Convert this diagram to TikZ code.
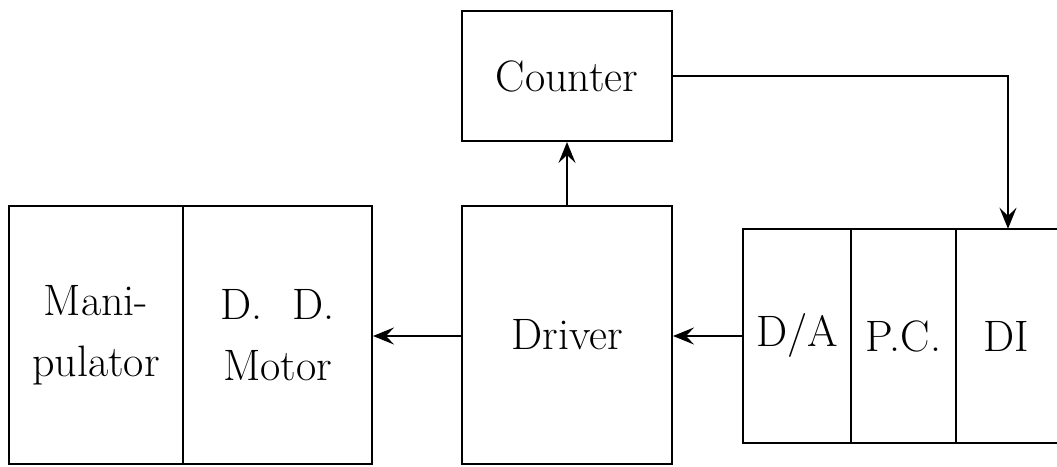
\documentclass[tikz,border=0pt]{standalone}
\usetikzlibrary{arrows.meta}
\begin{document}
\begin{tikzpicture}[x=1pt,y=1pt,
  box/.style={draw, line width=2pt, inner sep=0pt, align=center, font=\fontsize{44}{61}\selectfont},
  txt/.style={inner sep=0pt, align=center, font=\fontsize{44}{61}\selectfont},
  conn/.style={line width=2pt, -{Stealth[length=21pt,width=17pt,inset=8pt]}}]
\clip (0,0) rectangle (1057,466);
\node[box, minimum width=174pt, minimum height=258pt] (manip) at (96,131) {Mani-\\pulator};
\node[box, minimum width=189pt, minimum height=258pt] (motor) at (277.5,131) {D.\hspace{30pt}D.\\Motor};
\node[box, minimum width=210pt, minimum height=258pt] (driver) at (567,131) {Driver};
\node[box, minimum width=210pt, minimum height=130pt] (counter) at (567,390) {Counter};
\node[box, minimum width=108pt, minimum height=214pt] (da) at (797,130) {D/A};
\node[box, minimum width=105pt, minimum height=214pt] (pc) at (903.5,130) {P.C.};
\node[txt, minimum width=101pt, minimum height=214pt] (di) at (1006.5,130) {DI};
\draw[line width=2pt] (di.north west) -- ++(120,0);
\draw[line width=2pt] (di.south west) -- ++(120,0);
\coordinate (bend) at (1008,390);
\draw[conn] (driver.north) -- (counter.south);
\draw[conn] (counter.east) -- (bend) -- (bend |- di.north);
\draw[conn] (driver.west |- 0,130) -- (motor.east |- 0,130);
\draw[conn] (da.west) -- (driver.east |- da.west);
\end{tikzpicture}
\end{document}
